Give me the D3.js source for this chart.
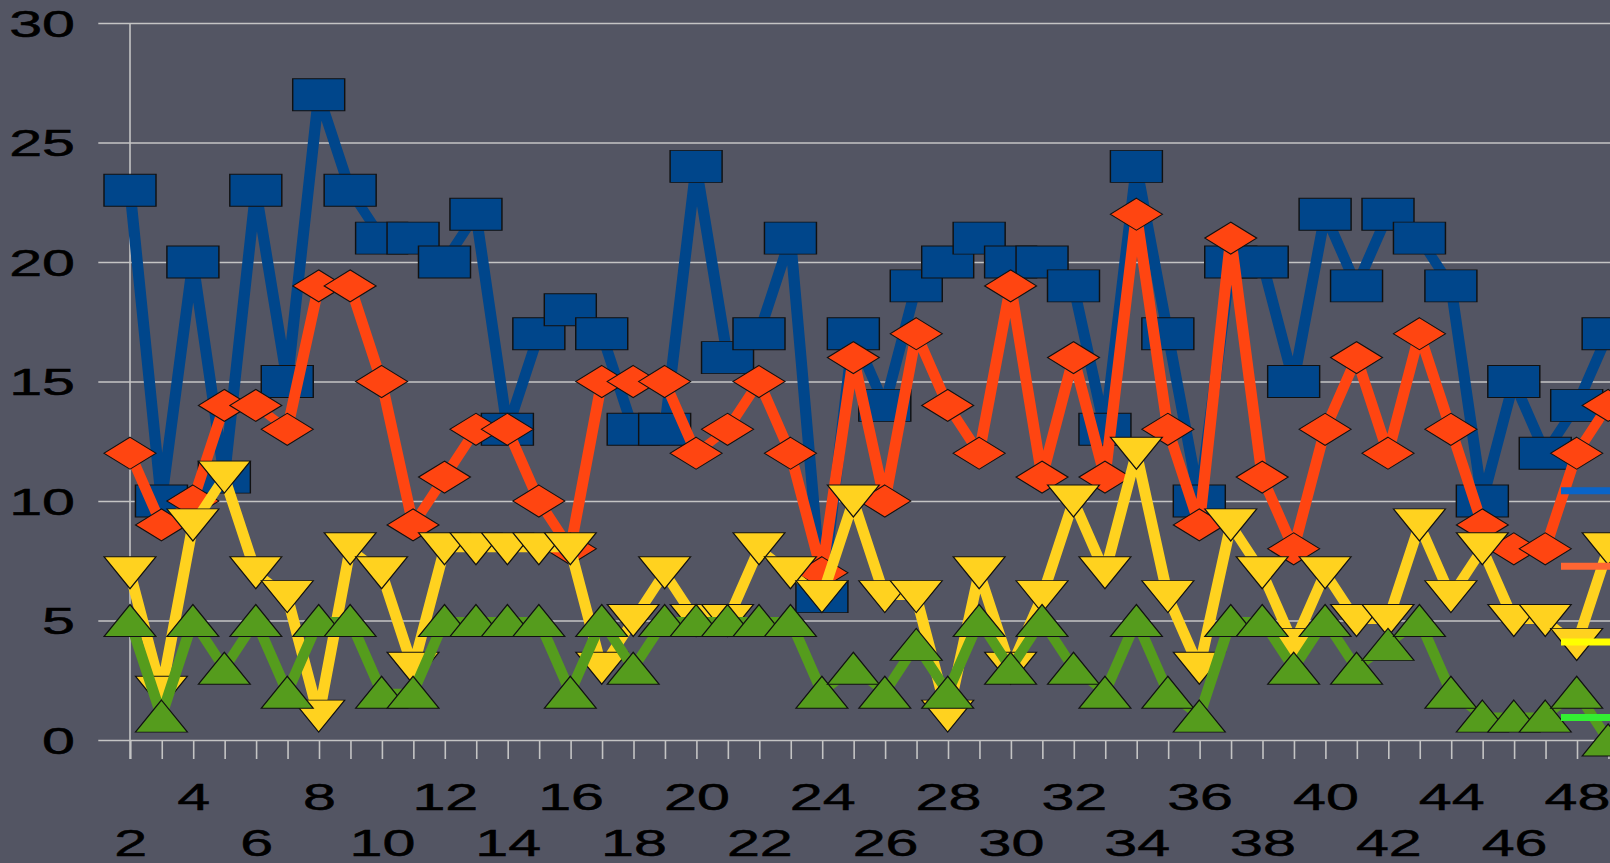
<!DOCTYPE html>
<html>
<head>
<meta charset="utf-8">
<script src="https://cdn.jsdelivr.net/npm/d3@7"></script>
<style>
  html, body { margin: 0; padding: 0; background: #535563; overflow: hidden; }
  svg { display: block; }
</style>
</head>
<body>
<div id="graph"></div>
<script>
// categorias del eje x
let categorias = [2,3,4,5,6,7,8,9,10,11,12,13,14,15,16,17,18,19,20,21,22,23,24,25,
  26,27,28,29,30,31,32,33,34,35,36,37,38,39,40,41,42,43,44,45,46,47,48,49];

// series (una por linea)
let serieAzul = [23,10,20,11,23,15,27,23,21,21,20,22,13,17,18,17,13,13,24,16,17,21,6,17,
  14,19,20,21,20,20,19,13,24,17,10,20,20,15,22,19,22,21,19,10,15,12,14,17];
let serieNaranja = [12,9,10,14,14,13,19,19,15,9,11,13,13,10,8,15,15,15,12,13,15,12,7,16,
  10,17,14,12,19,11,16,11,22,13,9,21,11,8,13,16,12,17,13,9,8,8,12,14];
let serieAmarilla = [7,2,9,11,7,6,1,8,7,3,8,8,8,8,8,3,5,7,5,5,8,7,6,10,
  6,6,1,7,3,6,10,7,12,6,3,9,7,4,7,5,5,9,6,8,5,5,4,8];
let serieVerde = [5,1,5,3,5,2,5,5,2,2,5,5,5,5,2,5,3,5,5,5,5,5,2,3,
  2,4,2,5,3,5,3,2,5,2,1,5,5,3,5,3,4,5,2,1,1,1,2,0];

let ticksY = [0,5,10,15,20,25,30];

// la imagen original esta estirada en horizontal
const SX = 1.6;
const svgWidth = 1610, svgHeight = 863;

let svg = d3.select("#graph").append("svg")
  .attr("width", svgWidth)
  .attr("height", svgHeight);

svg.append("rect").attr("width", svgWidth).attr("height", svgHeight).attr("fill", "#535563");

let chart = svg.append("g").attr("transform", `scale(${SX},1)`);

let xScale = d3.scaleLinear()
  .domain([2, 49])
  .range([130 / SX, (130 + 47 * 31.45) / SX]);

let yScale = d3.scaleLinear()
  .domain([0, 30])
  .range([740, 23]);

// lineas de la grilla
let grilla = chart.append("g")
  .attr("transform", `translate(${98.3 / SX},0)`)
  .call(d3.axisRight(yScale).tickValues(ticksY).tickSize((svgWidth - 98.3) / SX).tickFormat(""));
grilla.select(".domain").remove();
grilla.selectAll("line").attr("stroke", "#c4c4c4").attr("stroke-width", 1.6);

// eje vertical
chart.append("line")
  .attr("x1", xScale(2)).attr("x2", xScale(2))
  .attr("y1", yScale(30)).attr("y2", 759)
  .attr("stroke", "#c4c4c4").attr("stroke-width", 1);

// etiquetas eje y
let ejeY = chart.append("g")
  .attr("transform", `translate(${75 / SX},0)`)
  .call(d3.axisLeft(yScale).tickValues(ticksY).tickSize(0).tickPadding(0));
ejeY.select(".domain").remove();
ejeY.selectAll("text")
  .attr("font-family", "'Liberation Sans', Arial, sans-serif")
  .attr("font-size", 37)
  .attr("fill", "#000")
  .attr("stroke", "#000")
  .attr("stroke-width", 0.5)
  .attr("dy", "0.36em");

// eje x con etiquetas escalonadas
let ejeX = chart.append("g")
  .attr("transform", "translate(0,740)")
  .call(d3.axisBottom(xScale).tickValues(categorias).tickSize(19)
    .tickFormat(d => d % 2 == 0 ? d : ""));
ejeX.select(".domain").remove();
ejeX.selectAll("line").attr("stroke", "#c4c4c4").attr("stroke-width", 1);
ejeX.selectAll("text")
  .attr("font-family", "'Liberation Sans', Arial, sans-serif")
  .attr("font-size", 37)
  .attr("fill", "#000")
  .attr("stroke", "#000")
  .attr("stroke-width", 0.5)
  .attr("y", d => d % 4 == 0 ? 57 : 103)
  .attr("dy", "0.36em");

// marcadores
const hw = 52 / SX / 2, hh = 16;
let marcadores = {
  cuadrado: `M${-hw},${-hh}H${hw}V${hh}H${-hw}Z`,
  rombo: `M0,${-hh}L${hw},0L0,${hh}L${-hw},0Z`,
  trianguloAbajo: `M${-hw},${-hh}L${hw},${-hh}L0,${hh}Z`,
  trianguloArriba: `M0,${-hh}L${hw},${hh}L${-hw},${hh}Z`
};

let series = [
  { valores: serieAzul, color: "#00468b", marca: marcadores.cuadrado },
  { valores: serieNaranja, color: "#ff4511", marca: marcadores.rombo },
  { valores: serieAmarilla, color: "#ffd21f", marca: marcadores.trianguloAbajo },
  { valores: serieVerde, color: "#559c1d", marca: marcadores.trianguloArriba }
];

let drawLine = d3.line()
  .x((d, i) => xScale(categorias[i]))
  .y(d => yScale(d));

series.forEach(s => {
  chart.append("path")
    .attr("d", drawLine(s.valores))
    .attr("fill", "none")
    .attr("stroke", s.color)
    .attr("stroke-width", 7)
    .attr("stroke-linejoin", "miter");

  chart.append("g").selectAll("path")
    .data(s.valores)
    .enter().append("path")
    .attr("d", s.marca)
    .attr("transform", (d, i) => `translate(${xScale(categorias[i])},${yScale(d)})`)
    .attr("fill", s.color)
    .attr("stroke", "#111")
    .attr("stroke-width", 0.9);
});

// leyenda (cortada en el borde derecho)
let coloresLeyenda = ["#0a64c8", "#ff6633", "#ffff00", "#33ee33"];
chart.append("g").selectAll("line")
  .data(coloresLeyenda)
  .enter().append("line")
  .attr("x1", 1561 / SX).attr("x2", 1620 / SX)
  .attr("y1", (d, i) => 490.7 + i * 75.6)
  .attr("y2", (d, i) => 490.7 + i * 75.6)
  .attr("stroke", d => d)
  .attr("stroke-width", 7);
</script>
</body>
</html>
